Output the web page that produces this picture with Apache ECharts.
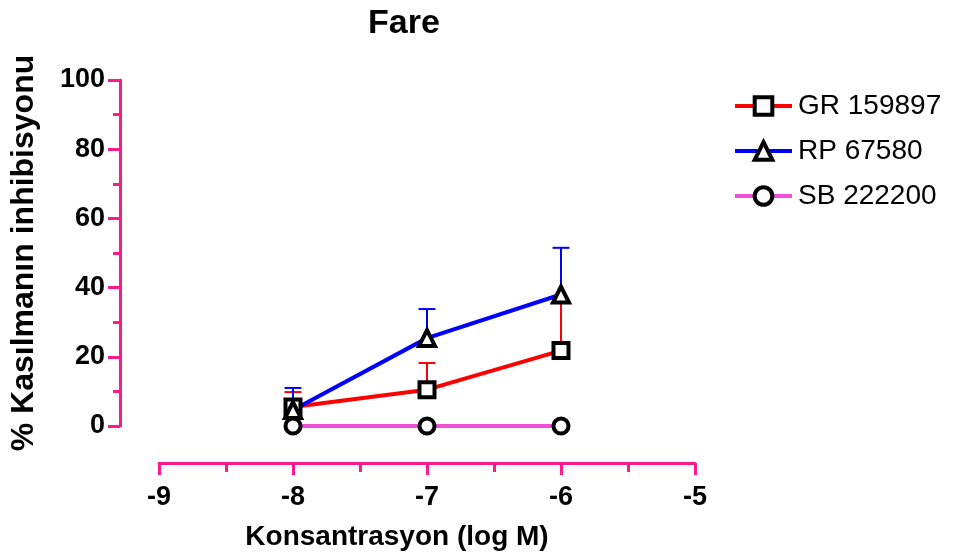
<!DOCTYPE html>
<html>
<head>
<meta charset="utf-8">
<script src="https://cdn.jsdelivr.net/npm/echarts@6/dist/echarts.min.js"></script>
<style>
html,body{margin:0;padding:0;background:#fff;}
#chart{width:958px;height:558px;}
</style>
</head>
<body>
<div id="chart"></div>
<script>
const titleText = 'Fare';
const xAxisName = 'Konsantrasyon (log M)';
const yAxisName = '% Kasılmanın inhibisyonu';
const logConc = [-8, -7, -6];
const seriesNames = ['GR 159897', 'RP 67580', 'SB 222200'];
const grMean = [5.5, 10.5, 21.8];
const grErr = [4.3, 7.7, 14.2];
const rpMean = [4.6, 25.4, 38];
const rpErr = [6.4, 8.4, 13.5];
const sbMean = [0, 0, 0];
const sbErr = [0, 0, 0];

const AXIS_PINK = '#ff1a8c';
const FONT = 'Liberation Sans, Arial, sans-serif';
const colors = ['#ff0000', '#0000ff', '#f050d8'];
const symbols = ['rect', 'triangle', 'circle'];
const symbolSizes = [15, 16, 15];
const means = [grMean, rpMean, sbMean];
const errs = [grErr, rpErr, sbErr];

const chart = echarts.init(document.getElementById('chart'));

const errorSeries = means.map((m, si) => ({
  type: 'custom',
  z: 1,
  silent: true,
  data: logConc.map((x, i) => [x, m[i], m[i] + errs[si][i]]).filter(d => d[2] > d[1]),
  renderItem: function (params, api) {
    const x = api.value(0);
    const lo = api.coord([x, api.value(1)]);
    const hi = api.coord([x, api.value(2)]);
    const half = 8.5;
    const style = { stroke: colors[si], lineWidth: 2 };
    return {
      type: 'group',
      children: [
        { type: 'line', shape: { x1: lo[0], y1: lo[1], x2: hi[0], y2: hi[1] }, style: style },
        { type: 'line', shape: { x1: hi[0] - half, y1: hi[1], x2: hi[0] + half, y2: hi[1] }, style: style }
      ]
    };
  }
}));

const lineSeries = means.map((m, si) => ({
  name: seriesNames[si],
  type: 'line',
  z: 2,
  data: logConc.map((x, i) => [x, m[i]]),
  symbol: symbols[si],
  symbolSize: symbolSizes[si],
  showAllSymbol: true,
  lineStyle: { color: colors[si], width: 4 },
  itemStyle: { color: '#ffffff', borderColor: '#000000', borderWidth: 4 },
  emphasis: { disabled: true },
  animation: false
}));

const option = {
  animation: false,
  backgroundColor: '#ffffff',
  title: {
    text: titleText,
    left: 368,
    top: 7,
    padding: 0,
    textStyle: { fontFamily: FONT, fontWeight: 'bold', fontSize: 34, color: '#000' }
  },
  legend: {
    orient: 'vertical',
    left: 733,
    top: 92,
    padding: 0,
    itemWidth: 57,
    itemHeight: 22,
    itemGap: 17,
    data: seriesNames,
    lineStyle: { width: 4 },
    itemStyle: { borderWidth: 4 },
    textStyle: { fontFamily: FONT, fontSize: 28, color: '#000', padding: [0, 0, 0, 1] }
  },
  grid: { left: 157, right: 263, top: 80, bottom: 132 },
  xAxis: {
    type: 'value',
    min: -9,
    max: -5,
    interval: 1,
    offset: 37,
    name: xAxisName,
    nameLocation: 'middle',
    nameGap: 60,
    nameTextStyle: { fontFamily: FONT, fontWeight: 'bold', fontSize: 28, color: '#000', padding: [0, 60, 0, 0] },
    axisLine: { show: true, onZero: false, lineStyle: { color: AXIS_PINK, width: 3 } },
    axisTick: { show: true, length: 12, lineStyle: { color: AXIS_PINK, width: 3 } },
    minorTick: { show: true, splitNumber: 2, length: 9, lineStyle: { color: AXIS_PINK, width: 3 } },
    splitLine: { show: false },
    axisLabel: { fontFamily: FONT, fontWeight: 'bold', fontSize: 27, color: '#000', margin: 21 }
  },
  yAxis: {
    type: 'value',
    min: 0,
    max: 100,
    interval: 20,
    offset: 39,
    name: yAxisName,
    nameLocation: 'middle',
    nameGap: 80,
    nameTextStyle: { fontFamily: FONT, fontWeight: 'bold', fontSize: 32, color: '#000' },
    axisLine: { show: true, onZero: false, lineStyle: { color: AXIS_PINK, width: 3 } },
    axisTick: { show: true, length: 12, lineStyle: { color: AXIS_PINK, width: 3 } },
    minorTick: { show: true, splitNumber: 2, length: 7, lineStyle: { color: AXIS_PINK, width: 3 } },
    splitLine: { show: false },
    axisLabel: { fontFamily: FONT, fontWeight: 'bold', fontSize: 27, color: '#000', margin: 15 }
  },
  series: errorSeries.concat(lineSeries)
};
chart.setOption(option);
</script>
</body>
</html>
